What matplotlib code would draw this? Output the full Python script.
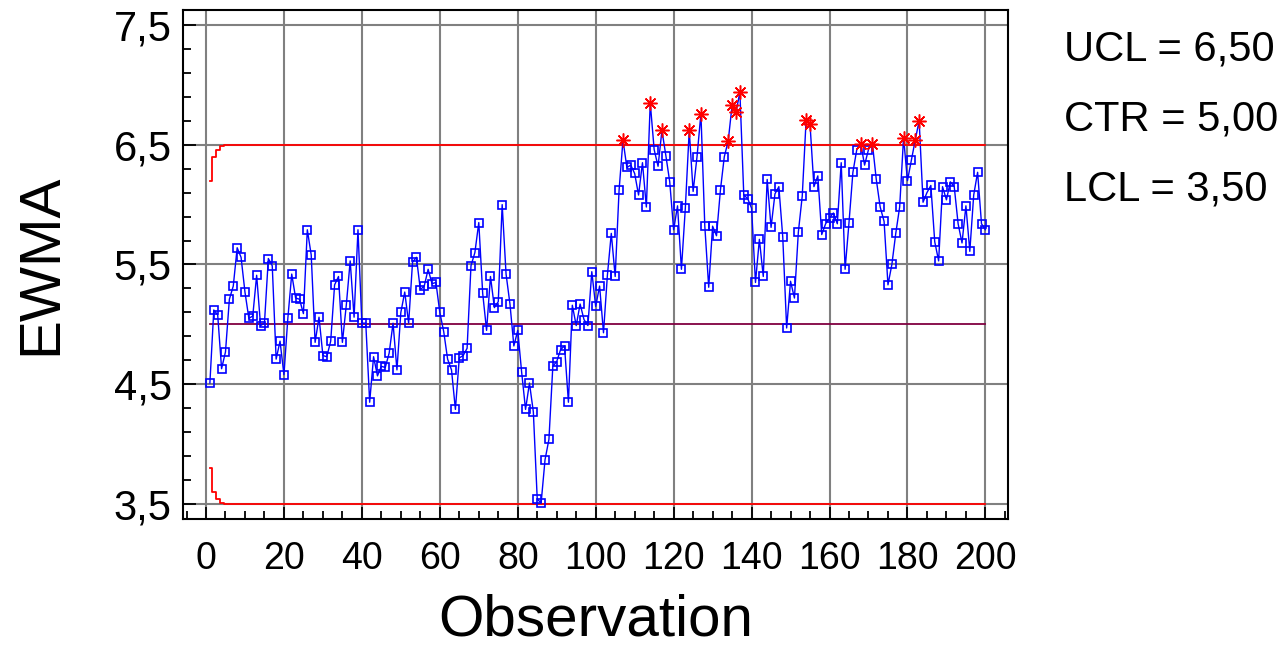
import numpy as np
import matplotlib.pyplot as plt
from matplotlib import font_manager
from matplotlib.ticker import MultipleLocator, FuncFormatter

ewma = [4.51, 5.12, 5.08, 4.63, 4.77, 5.21, 5.32, 5.64, 5.56, 5.27,
        5.05, 5.07, 5.41, 4.99, 5.01, 5.55, 5.49, 4.71, 4.86, 4.58,
        5.05, 5.42, 5.22, 5.21, 5.09, 5.79, 5.58, 4.85, 5.06, 4.74,
        4.73, 4.86, 5.33, 5.40, 4.85, 5.16, 5.53, 5.06, 5.79, 5.01,
        5.01, 4.35, 4.73, 4.57, 4.65, 4.64, 4.76, 5.01, 4.62, 5.10,
        5.27, 5.01, 5.52, 5.56, 5.29, 5.32, 5.46, 5.34, 5.35, 5.10,
        4.94, 4.71, 4.62, 4.29, 4.72, 4.74, 4.80, 5.49, 5.60, 5.85,
        5.26, 4.95, 5.40, 5.14, 5.19, 6.00, 5.42, 5.17, 4.82, 4.95,
        4.60, 4.29, 4.51, 4.27, 3.54, 3.51, 3.87, 4.04, 4.65, 4.69,
        4.79, 4.82, 4.35, 5.16, 4.99, 5.17, 5.04, 4.99, 5.44, 5.15,
        5.32, 4.93, 5.41, 5.76, 5.40, 6.12, 6.54, 6.31, 6.33, 6.26,
        6.08, 6.35, 5.98, 6.85, 6.46, 6.32, 6.62, 6.41, 6.19, 5.79,
        5.99, 5.46, 5.97, 6.62, 6.11, 6.40, 6.76, 5.82, 5.31, 5.82,
        5.74, 6.12, 6.40, 6.53, 6.83, 6.77, 6.94, 6.08, 6.05, 5.97,
        5.35, 5.71, 5.40, 6.21, 5.81, 6.09, 6.15, 5.73, 4.97, 5.36,
        5.22, 5.77, 6.07, 6.71, 6.67, 6.15, 6.24, 5.75, 5.84, 5.89,
        5.93, 5.84, 6.35, 5.46, 5.85, 6.27, 6.46, 6.51, 6.33, 6.46,
        6.51, 6.21, 5.98, 5.86, 5.33, 5.50, 5.76, 5.98, 6.56, 6.20,
        6.37, 6.54, 6.70, 6.02, 6.10, 6.16, 5.69, 5.53, 6.15, 6.04,
        6.19, 6.15, 5.84, 5.68, 5.99, 5.61, 6.08, 6.27, 5.84, 5.79]

ctr = 5.00
ucl = 6.50
lcl = 3.50
# half width of the limits for the first observations (start-up), then constant
startup = [1.20, 1.40, 1.46, 1.49, 1.50]

ewma = np.array(ewma)
obs = np.arange(1, len(ewma) + 1)
half = np.full(len(ewma), ucl - ctr)
half[:len(startup)] = startup

# narrow font for the x axis if it is there
names = {f.name for f in font_manager.fontManager.ttflist}
if "Liberation Sans Narrow" in names:
    narrow, xtick_size, xlab_size = "Liberation Sans Narrow", 33, 47
else:
    narrow, xtick_size, xlab_size = "Liberation Sans", 27, 42
plt.rcParams["font.family"] = "Liberation Sans"

fig = plt.figure(figsize=(12.84, 6.53), dpi=100)
ax = fig.add_axes([183 / 1284, 1 - 519 / 653, 825 / 1284, 509 / 653])

ax.plot(obs, ctr + half, color="red", lw=1.3, drawstyle="steps-mid", zorder=3)
ax.plot(obs, ctr - half, color="red", lw=1.3, drawstyle="steps-mid", zorder=3)
ax.plot([obs[0], obs[-1]], [ctr, ctr], color="#800040", lw=1.3, zorder=3)

ax.plot(obs, ewma, color="blue", lw=1.0, zorder=4)
out = ewma > ucl
ax.plot(obs[~out], ewma[~out], ls="none", marker="s", ms=5.5, mfc="none",
        mec="blue", mew=1.2, zorder=5)
ax.plot(obs[out], ewma[out], ls="none", marker=(8, 2, 0), ms=10,
        mec="red", mew=1.1, zorder=5)

ax.set_xlim(-5.9, 205.8)
ax.set_ylim(3.375, 7.625)
ax.xaxis.set_major_locator(MultipleLocator(20))
ax.xaxis.set_minor_locator(MultipleLocator(5))
ax.set_yticks([3.5, 4.5, 5.5, 6.5, 7.5])
ax.yaxis.set_minor_locator(MultipleLocator(0.2, offset=0.1))
ax.yaxis.set_major_formatter(FuncFormatter(lambda v, p: f"{v:.1f}".replace(".", ",")))
ax.grid(True, which="major", color="#808080", lw=1.5)
ax.set_axisbelow(True)
ax.tick_params(which="both", direction="in", top=False, right=False, width=1.3)
ax.tick_params(which="major", length=9)
ax.tick_params(which="minor", length=6)
ax.tick_params(axis="y", labelsize=30, pad=8)
ax.tick_params(axis="x", labelsize=xtick_size, pad=16)
for lab in ax.get_xticklabels():
    lab.set_family(narrow)
for s in ax.spines.values():
    s.set_linewidth(1.5)

ax.set_xlabel("Observation", fontsize=xlab_size, family=narrow, labelpad=12)
ax.set_ylabel("EWMA", fontsize=42, labelpad=33)

fig.text(1064 / 1284, 1 - 49 / 653, "UCL = 6,50", fontsize=30, va="center")
fig.text(1064 / 1284, 1 - 120 / 653, "CTR = 5,00", fontsize=30, va="center")
fig.text(1064 / 1284, 1 - 190 / 653, "LCL = 3,50", fontsize=30, va="center")

fig.savefig("out.png", dpi=100)
